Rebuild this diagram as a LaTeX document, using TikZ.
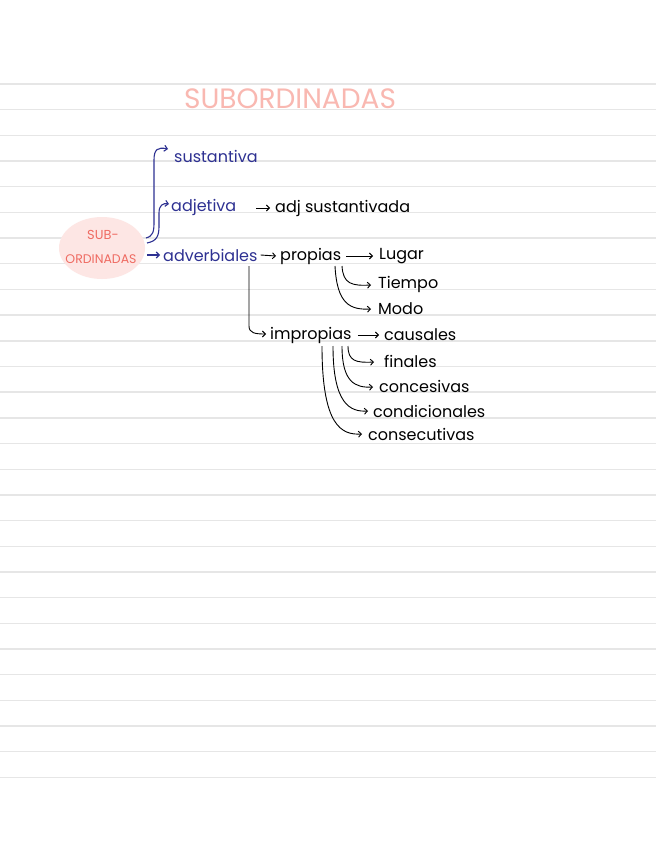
\documentclass[tikz,border=0pt]{standalone}
\usepackage{fontspec}
\setmainfont{Poppins}
\usetikzlibrary{arrows.meta,shapes.geometric}
\definecolor{rulec}{HTML}{E6E6E6}
\definecolor{navy}{HTML}{2E3192}
\definecolor{pinkt}{HTML}{F9B8B1}
\definecolor{blob}{HTML}{FDE6E4}
\definecolor{redt}{HTML}{EF6B62}
\tikzset{
  lbl/.style={font=\fontsize{16}{18}\selectfont, anchor=west, inner sep=0pt, text=black},
  blbl/.style={lbl, text=navy},
  arr/.style={-{Straight Barb[length=3pt,width=6pt]}, line width=0.9pt, black},
  barr/.style={arr, navy, line width=1.1pt},
  ruleline/.style={rulec, line width=1.4pt}
}
\begin{document}
\begin{tikzpicture}[x=1pt,y=-1pt]
\useasboundingbox (0,0) rectangle (656,848);
\fill[white] (0,0) rectangle (656,848);
% ruled lines
\foreach \i in {0,...,27} {
  \draw[ruleline] (0,{84+25.68*\i}) -- (656,{84+25.68*\i});
}
% title
\node[font=\fontsize{28}{30}\selectfont, text=pinkt, inner sep=0pt] (title) at (290,99) {SUBORDINADAS};
% central blob
\node[ellipse, fill=blob, minimum width=86pt, minimum height=62pt, inner sep=0pt] (circ) at (102,248) {};
\node[font=\fontsize{13}{15}\selectfont, text=redt, inner sep=0pt] (sub1) at (103,235) {SUB-};
\node[font=\fontsize{12.5}{14}\selectfont, text=redt, inner sep=0pt] (sub2) at (101,259) {ORDINADAS};
% blue labels
\node[blbl] (sust) at (174,156) {sustantiva};
\node[blbl] (adje) at (171,207) {adjetiva};
\node[blbl] (adve) at (163,255) {adverbiales};
% black labels
\node[lbl] (adjs) at (275,208) {adj sustantivada};
\node[lbl] (prop) at (280,256) {propias};
\node[lbl] (lugar) at (379,256) {Lugar};
\node[lbl] (tiempo) at (378,284) {Tiempo};
\node[lbl] (modo) at (378,309) {Modo};
\node[lbl] (impr) at (270,335) {impropias};
\node[lbl] (caus) at (384,335) {causales};
\node[lbl] (fin) at (384,361) {finales};
\node[lbl] (conc) at (379,386) {concesivas};
\node[lbl] (cond) at (373,411) {condicionales};
\node[lbl] (cons) at (368,434) {consecutivas};
% coordinates for connector ends
\coordinate (b1s) at (146,238);
\coordinate (b1e) at (168,149);
\coordinate (b2s) at (147,243);
\coordinate (b2e) at (169,204);
\coordinate (avs) at (147,255);
\coordinate (ave) at (160,255);
\coordinate (vs) at (249,266);
\coordinate (ve) at (266,334);
\coordinate (ts) at (342,266);
\coordinate (te) at (371,285);
\coordinate (ms) at (335,266);
\coordinate (me) at (371,309);
\coordinate (fs) at (348,346);
\coordinate (fe) at (374,362);
\coordinate (cs1) at (342,346);
\coordinate (ce1) at (373,387);
\coordinate (cs2) at (333,346);
\coordinate (ce2) at (368,411);
\coordinate (cs3) at (322,346);
\coordinate (ce3) at (362,434);
% blue connectors
\draw[barr] (b1s) .. controls (153,236) and (154,232) .. (154,222) -- (154,160) .. controls (154,149) and (158,147) .. (b1e);
\draw[barr] (b2s) .. controls (157,241) and (159,236) .. (159,226) -- (159,213) .. controls (159,205) and (163,203) .. (b2e);
\draw[barr] (avs) -- (ave);
% black connectors
\draw[arr] ([xshift=-19pt]adjs.west) -- ([xshift=-5pt]adjs.west);
\draw[arr] ([xshift=3pt]adve.east) -- ([xshift=-4pt]prop.west);
\draw[arr] ([xshift=5pt]prop.east) -- ([xshift=-6pt]lugar.west);
\draw[arr] ([xshift=6pt]impr.east) -- ([xshift=-5pt]caus.west);
\draw[arr] (vs) -- (249,326) .. controls (249,333) and (255,334) .. (ve);
\draw[arr] (ts) .. controls (343,284) and (352,286) .. (te);
\draw[arr] (ms) .. controls (337,304) and (350,310) .. (me);
\draw[arr] (fs) .. controls (348,361) and (356,363) .. (fe);
\draw[arr] (cs1) .. controls (342,382) and (355,388) .. (ce1);
\draw[arr] (cs2) .. controls (333,404) and (350,412) .. (ce2);
\draw[arr] (cs3) .. controls (322,427) and (342,435) .. (ce3);
\end{tikzpicture}
\end{document}
